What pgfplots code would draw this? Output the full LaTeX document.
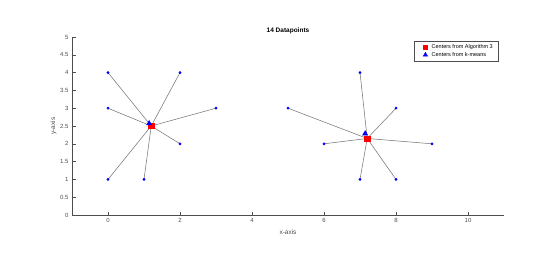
\documentclass[border=0pt]{standalone}
\usepackage{pgfplots}
\pgfplotsset{compat=1.18}
\usepackage{fontspec}
\setmainfont{Liberation Sans}
\definecolor{axgray}{RGB}{77,77,77}
\definecolor{lngray}{RGB}{120,120,120}
\begin{document}
\begin{tikzpicture}
\path[use as bounding box] (-72pt,-47pt) rectangle (484pt,215pt);
\begin{axis}[
  at={(0,0)}, anchor=south west,
  scale only axis, width=432pt, height=178pt,
  xmin=-1, xmax=11, ymin=0, ymax=5,
  axis lines*=left,
  axis line style={axgray, line width=0.5pt},
  xtick={0,2,...,10},
  ytick={0,0.5,...,5},
  tick align=inside,
  major tick length=3.5pt,
  tick style={axgray, line width=0.5pt},
  tick label style={font=\fontsize{6}{7}\selectfont, text=axgray},
  /pgf/number format/assume math mode=true,
  yticklabel style={/pgf/number format/fixed},
  xlabel={x-axis}, ylabel={y-axis},
  label style={font=\fontsize{6.5}{7.5}\selectfont, text=axgray},
  xlabel style={at={(axis description cs:0.5,0)}, anchor=north, yshift=-11pt},
  ylabel style={at={(axis description cs:0,0.5)}, anchor=south, yshift=12pt},
  legend style={at={(rel axis cs:1,1)}, anchor=north east, xshift=-6pt, yshift=-4pt,
    font=\fontsize{5.5}{6.5}\selectfont, draw=axgray, line width=0.4pt,
    inner xsep=3pt, inner ysep=1.5pt,
    row sep=-2pt, cells={anchor=west}},
  legend cell align=left,
  clip=false,
]
% connecting lines (star from each Algorithm-3 center)
\addplot[lngray, line width=0.55pt, forget plot] coordinates {
 (0,4) (1.2,2.5) (0,3) (1.2,2.5) (0,1) (1.2,2.5) (1,1) (1.2,2.5)
 (2,4) (1.2,2.5) (2,2) (1.2,2.5) (3,3)
};
\addplot[lngray, line width=0.55pt, forget plot] coordinates {
 (5,3) (7.2,2.15) (6,2) (7.2,2.15) (7,4) (7.2,2.15) (7,1) (7.2,2.15)
 (8,3) (7.2,2.15) (8,1) (7.2,2.15) (9,2)
};
% data points
\addplot[only marks, mark=*, mark size=1.2pt, blue, forget plot] coordinates {
 (0,4) (0,3) (0,1) (1,1) (2,4) (2,2) (3,3)
 (5,3) (6,2) (7,4) (7,1) (8,3) (8,1) (9,2)
};
% centers
\addplot[only marks, mark=square*, mark size=2.6pt, red, mark options={draw=red, fill=red},
  legend image code/.code={\path[draw=none] (0,0) -- (0.45cm,0); \path[draw=none, mark=square*, mark size=2pt, mark options={draw=red, fill=red}] plot coordinates {(0.3cm,0cm)};}] coordinates {
 (1.2,2.5) (7.2,2.15)
};
\addlegendentry{Centers from Algorithm 3}
\addplot[only marks, mark=triangle*, mark size=3pt, blue, mark options={draw=blue, fill=blue},
  legend image code/.code={\path[draw=none] (0,0) -- (0.45cm,0); \path[draw=none, mark=triangle*, mark size=2.6pt, mark options={draw=blue, fill=blue}] plot coordinates {(0.3cm,0cm)};}] coordinates {
 (1.143,2.571) (7.143,2.286)
};
\addlegendentry{Centers from k-means}
\node[font=\fontsize{6.5}{7.5}\selectfont\bfseries, anchor=south, inner sep=0pt] at (rel axis cs:0.5,1) [yshift=3pt] {14 Datapoints};
\end{axis}
\end{tikzpicture}
\end{document}
